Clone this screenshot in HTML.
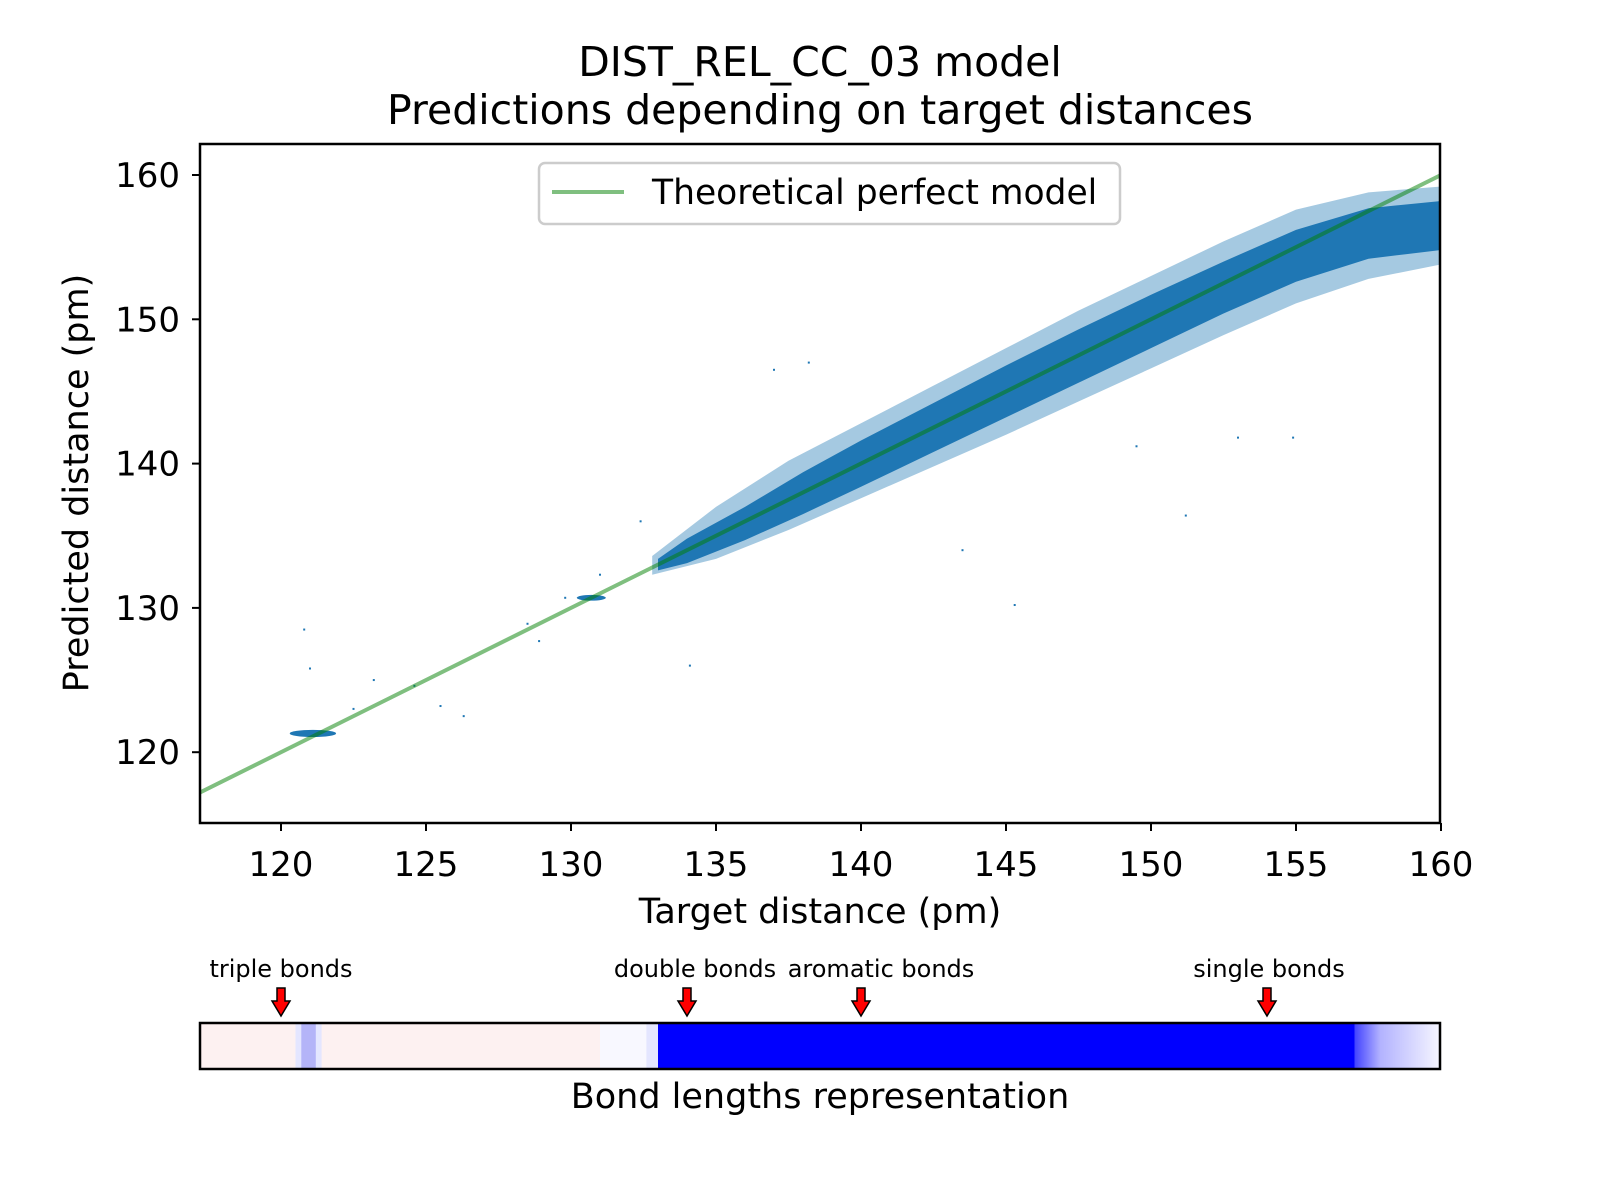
<!DOCTYPE html>
<html><head><meta charset="utf-8"><style>
html,body{margin:0;padding:0;background:#fff;}
svg{display:block;font-family:"DejaVu Sans","Liberation Sans",sans-serif;}
</style></head><body>
<svg id="chart" width="1600" height="1200" viewBox="0 0 1600 1200" xmlns="http://www.w3.org/2000/svg">
<rect width="1600" height="1200" fill="#fff"/>
<text x="820" y="76" font-size="41" text-anchor="middle">DIST_REL_CC_03 model</text>
<text x="820" y="124" font-size="41" text-anchor="middle">Predictions depending on target distances</text>
<defs><clipPath id="plotclip"><rect x="200" y="144" width="1240" height="679"/></clipPath>
<linearGradient id="fade" x1="0" x2="1" y1="0" y2="0"><stop offset="0" stop-color="#0000ff" stop-opacity="0.75"/><stop offset="0.3" stop-color="#0000ff" stop-opacity="0.3"/><stop offset="1" stop-color="#0000ff" stop-opacity="0.03"/></linearGradient></defs>
<g id="plot" clip-path="url(#plotclip)"></g>
<rect x="200" y="144" width="1240" height="679" fill="none" stroke="#000" stroke-width="2.5"/>
<g id="xticks"></g>
<g id="yticks"></g>
<text x="820" y="923" font-size="35" text-anchor="middle">Target distance (pm)</text>
<text transform="translate(88,483) rotate(-90)" font-size="35" text-anchor="middle">Predicted distance (pm)</text>
<g>
<rect x="539" y="163" width="581" height="61" rx="6" fill="#fff" fill-opacity="0.8" stroke="#ccc" stroke-width="2.5"/>
<line x1="552" y1="192" x2="624" y2="192" stroke="#008000" stroke-opacity="0.5" stroke-width="4"/>
<text x="652" y="204" font-size="34.5">Theoretical perfect model</text>
</g>
<g id="bondbar"></g>
<rect x="200" y="1023" width="1240" height="46" fill="none" stroke="#000" stroke-width="2.5"/>
<g id="annots"></g>
<text x="820" y="1108" font-size="35" text-anchor="middle">Bond lengths representation</text>
</svg>
<script>
// ---- data ----
const xTicks = [120,125,130,135,140,145,150,155,160];
const yTicks = [120,130,140,150,160];
const coreX     = [133,134,136,138,140,142.5,145,147.5,150,152.5,155,157.5,160];
const coreUpper = [133.4,134.8,137.0,139.4,141.6,144.2,146.8,149.3,151.7,154.0,156.2,157.7,158.2];
const coreLower = [132.6,133.1,134.7,136.5,138.4,140.8,143.2,145.6,148.0,150.4,152.6,154.2,154.8];
const fringeX     = [132.8,135,137.5,140,142.5,145,147.5,150,152.5,155,157.5,160];
const fringeUpper = [133.6,137.0,140.2,142.8,145.4,148.0,150.6,153.0,155.4,157.6,158.8,159.2];
const fringeLower = [132.3,133.4,135.4,137.6,139.8,142.0,144.3,146.6,148.9,151.1,152.8,153.8];
const clusterX = [121.1,130.7];
const clusterY = [121.3,130.7];
const clusterRx = [0.8,0.5];
const clusterRy = [0.25,0.2];
const outlierX = [121,122.5,123.2,124.6,125.5,126.3,128.5,129.8,131,134.1,137,138.2,143.5,149.5,151.2,153,154.9,145.3,132.4,128.9,120.8];
const outlierY = [125.8,123,125,124.6,123.2,122.5,128.9,130.7,132.3,126,146.5,147,134,141.2,136.4,141.8,141.8,130.2,136,127.7,128.5];
const bondStarts = [117.2,120.5,120.7,121.2,121.4,131.0,132.6,133.0,157.0];
const bondEnds   = [120.5,120.7,121.2,121.4,131.0,132.6,133.0,157.0,160.0];
const bondKinds  = ['pink','lightblue','blue35','lightblue','pink','white','lightblue','blue','fade'];
const annotLabels = ['triple bonds','double bonds','aromatic bonds','single bonds'];
const annotValues = [120,134,140,154];
const annotLabelOffsets = [0,8,20,2];
// ---- scales ----
const X = v => 281 + (v-120)*29;
const Y = v => 175 + (160-v)*14.43;
const NS = 'http://www.w3.org/2000/svg';
function mk(tag, attrs, parent){const e=document.createElementNS(NS,tag);for(const k in attrs)e.setAttribute(k,attrs[k]);parent.appendChild(e);return e;}
const plot = document.getElementById('plot');
function band(xs, up, lo){
  let pts=[];for(let i=0;i<xs.length;i++)pts.push(X(xs[i])+','+Y(up[i]));
  for(let i=xs.length-1;i>=0;i--)pts.push(X(xs[i])+','+Y(lo[i]));
  return pts.join(' ');
}
const fr = mk('polygon',{points:band(fringeX,fringeUpper,fringeLower),fill:'#1f77b4','fill-opacity':'0.4'},plot);


const core = mk('polygon',{points:band(coreX,coreUpper,coreLower),fill:'#1f77b4'},plot);


for(let i=0;i<clusterX.length;i++){
  const c = mk('ellipse',{cx:X(clusterX[i]),cy:Y(clusterY[i]),rx:clusterRx[i]*29,ry:clusterRy[i]*14.43,fill:'#1f77b4'},plot);
  
  
}
for(let i=0;i<outlierX.length;i++){
  const p = mk('rect',{x:X(outlierX[i])-1,y:Y(outlierY[i])-1,width:2,height:2,fill:'#1f77b4'},plot);
  
  
}
const pl = mk('line',{x1:X(117.2),y1:Y(117.2),x2:X(160),y2:Y(160),stroke:'#008000','stroke-opacity':'0.5','stroke-width':4},plot);


// ticks
const xt=document.getElementById('xticks');
xTicks.forEach(v=>{
  const t=mk('line',{x1:X(v),y1:823,x2:X(v),y2:831,stroke:'#000','stroke-width':2},xt);
  
  
  const l=mk('text',{x:X(v),y:876,'font-size':34,'text-anchor':'middle'},xt);l.textContent=v;
  
  
});
const yt=document.getElementById('yticks');
yTicks.forEach(v=>{
  const t=mk('line',{x1:192,y1:Y(v),x2:200,y2:Y(v),stroke:'#000','stroke-width':2},yt);
  
  
  const l=mk('text',{x:180,y:Y(v)+12,'font-size':34,'text-anchor':'end'},yt);l.textContent=v;
  
  
});
// bond bar
const bb=document.getElementById('bondbar');
const fills={pink:'#fdf1f1',lightblue:'#e4e6ff',blue35:'#b4b4f8',white:'#f8f8ff',blue:'#0000ff',fade:'url(#fade)'};
for(let i=0;i<bondStarts.length;i++){
  const r=mk('rect',{x:X(bondStarts[i]),y:1023,width:X(bondEnds[i])-X(bondStarts[i])+0.5,height:46,fill:fills[bondKinds[i]]},bb);
  
  
}
// annotations
const an=document.getElementById('annots');
for(let i=0;i<annotLabels.length;i++){
  const x=X(annotValues[i]);
  const t=mk('text',{x:x+annotLabelOffsets[i],y:977,'font-size':24,'text-anchor':'middle'},an);t.textContent=annotLabels[i];
  
  
  const a=mk('polygon',{points:`${x-4},988 ${x+4},988 ${x+4},1001 ${x+9},1001 ${x},1016 ${x-9},1001 ${x-4},1001`,fill:'#ff0000',stroke:'#000','stroke-width':1.5},an);
  
  
}
</script>
</body></html>
